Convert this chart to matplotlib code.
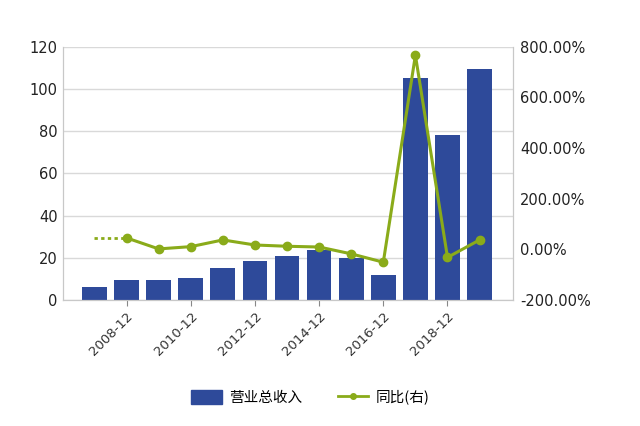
import matplotlib
matplotlib.use("Agg")
import matplotlib.pyplot as plt
import numpy as np
from matplotlib.lines import Line2D
from matplotlib.patches import Patch

plt.rcParams["font.family"] = ["DejaVu Sans", "Noto Sans CJK SC"]

periods = ["2007-12", "2008-12", "2009-12", "2010-12", "2011-12", "2012-12", "2013-12",
           "2014-12", "2015-12", "2016-12", "2017-12", "2018-12", "2019-12"]
revenue = [6.1, 9.3, 9.3, 10.6, 15.2, 18.4, 21.0, 23.7, 19.8, 11.8, 105.4, 78.2, 109.3]
# yoy for 2007 unknown -> drawn as dotted lead-in
yoy = [np.nan, 45.0, 1.5, 10.5, 37.0, 17.0, 12.0, 9.0, -18.0, -51.0, 767.0, -32.0, 37.0]

BAR = "#2e4a9a"
GREEN = "#8aab1a"
GRID = "#d9d9d9"

x = np.arange(len(periods))
fig = plt.figure(figsize=(6.4, 4.26), dpi=100)
ax = fig.add_axes([0.099, 0.296, 0.703, 0.594])
ax2 = ax.twinx()

ax.bar(x, revenue, width=0.77, color=BAR, zorder=2)
ax.set_ylim(0, 120)
ax.set_yticks(range(0, 121, 20))
ax.set_xlim(-0.97, 13.05)
ax.grid(axis="y", color=GRID, linewidth=1, zorder=0)
ax.set_axisbelow(True)

ax2.plot(x[:2], [yoy[1], yoy[1]], color=GREEN, linestyle=(0, (1.2, 1.2)), linewidth=2)
ax2.plot(x, yoy, color=GREEN, linewidth=2.2, marker="o", markersize=6, zorder=3)
ax2.set_ylim(-200, 800)
ax2.set_yticks(range(-200, 801, 200))
ax2.set_yticklabels([f"{v:.2f}%" for v in range(-200, 801, 200)])

ax.set_xticks(x[1::2])
ax.set_xticklabels(periods[1::2], rotation=45, ha="right", rotation_mode="anchor", fontsize=9.5, color="#333333")

for a in (ax, ax2):
    a.spines["top"].set_visible(False)
    for s in ("left", "right", "bottom"):
        a.spines[s].set_color("#c8c8c8")
ax.tick_params(axis="y", length=0, labelsize=10.5, labelcolor="#222222", pad=4)
ax2.tick_params(axis="y", length=0, labelsize=10.5, labelcolor="#222222", pad=5)
ax.tick_params(axis="x", length=4, color="#888888", pad=3)

handles = [Patch(color=BAR),
           Line2D([], [], color=GREEN, linewidth=2, marker="o", markersize=4)]
fig.legend(handles, ["营业总收入", "同比(右)"], loc="center", bbox_to_anchor=(0.485, 0.068),
           ncol=2, frameon=False, handlelength=2.1, handleheight=1.1, handletextpad=0.5,
           columnspacing=2.4, prop={"family": ["Noto Sans CJK SC", "DejaVu Sans"], "size": 10.5})

fig.savefig("out.png", dpi=100, facecolor="white")
